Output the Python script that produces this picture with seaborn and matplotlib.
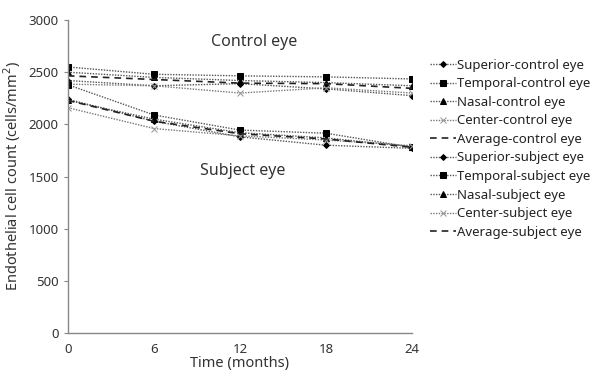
import matplotlib
matplotlib.use("Agg")
import matplotlib.pyplot as plt
import seaborn as sns
import pandas as pd

sns.set_style("white")
plt.rcParams['font.family'] = ['Noto Sans', 'DejaVu Sans']

months = [0, 6, 12, 18, 24]
series_names = [
    "Superior-control eye", "Temporal-control eye", "Nasal-control eye",
    "Center-control eye", "Average-control eye",
    "Superior-subject eye", "Temporal-subject eye", "Nasal-subject eye",
    "Center-subject eye", "Average-subject eye",
]
superior_control = [2420, 2370, 2390, 2340, 2275]
temporal_control = [2550, 2480, 2465, 2455, 2435]
nasal_control = [2500, 2450, 2420, 2400, 2370]
center_control = [2385, 2370, 2300, 2350, 2300]
average_control = [2465, 2430, 2395, 2390, 2345]
superior_subject = [2240, 2030, 1880, 1800, 1770]
temporal_subject = [2380, 2090, 1945, 1915, 1780]
nasal_subject = [2230, 2050, 1920, 1870, 1785]
center_subject = [2160, 1960, 1890, 1850, 1795]
average_subject = [2230, 2030, 1910, 1860, 1780]

values = [superior_control, temporal_control, nasal_control, center_control, average_control,
          superior_subject, temporal_subject, nasal_subject, center_subject, average_subject]

rows = []
for name, vals in zip(series_names, values):
    for m, v in zip(months, vals):
        rows.append({"series": name, "month": m, "count": v})
df = pd.DataFrame(rows)

styles = {
    "Superior": dict(marker="D", markersize=3, color="#555555", mfc="black", mec="black", ls=(0, (1, 1))),
    "Temporal": dict(marker="s", markersize=4.5, color="#555555", mfc="black", mec="black", ls=(0, (1, 1))),
    "Nasal": dict(marker="^", markersize=4, color="#555555", mfc="black", mec="black", ls=(0, (1, 1))),
    "Center": dict(marker="x", markersize=4, color="#777777", mfc="#999999", mec="#999999", ls=(0, (1, 1))),
    "Average": dict(marker=None, markersize=0, color="#222222", mfc="black", mec="black", ls=(0, (4, 3))),
}

fig, ax = plt.subplots(figsize=(6, 3.85), dpi=100)
fig.subplots_adjust(left=0.113, right=0.687, top=0.948, bottom=0.135)

for name in series_names:
    key = name.split("-")[0]
    st = styles[key]
    sub = df[df["series"] == name]
    lw = 1.2 if key == "Average" else 1.0
    sns.lineplot(data=sub, x="month", y="count", ax=ax, label=name,
                 color=st["color"], linestyle=st["ls"], linewidth=lw,
                 marker=st["marker"], markersize=st["markersize"],
                 markerfacecolor=st["mfc"], markeredgecolor=st["mec"])

ax.set_xlim(0, 24)
ax.set_ylim(0, 3000)
ax.set_xticks(months)
ax.set_yticks(range(0, 3001, 500))
ax.set_xticklabels([str(m) for m in months], fontsize=9.5, fontweight="bold", color="#333333")
ax.set_yticklabels([str(v) for v in range(0, 3001, 500)], fontsize=9.5, fontweight="bold", color="#333333")
ax.tick_params(axis="y", length=3, direction="out", left=True, color="#888888")
ax.tick_params(axis="x", length=0, pad=7)
for s in ["top", "right"]:
    ax.spines[s].set_visible(False)
for s in ["left", "bottom"]:
    ax.spines[s].set_color("#888888")
    ax.spines[s].set_linewidth(1.0)
ax.set_xlabel("Time (months)", fontsize=10.5, color="#333333", labelpad=0)
ax.set_ylabel("Endothelial cell count (cells/mm$^2$)", fontsize=10.5, color="#333333")

ax.text(13, 2790, "Control eye", ha="center", va="center", fontsize=11.5, color="#333333")
ax.text(12.2, 1550, "Subject eye", ha="center", va="center", fontsize=11.5, color="#333333")

leg = ax.legend(loc="upper left", bbox_to_anchor=(1.035, 0.893), frameon=False,
                fontsize=9.5, handlelength=2.0, handletextpad=0.1, labelspacing=0.42,
                borderaxespad=0)
for t in leg.get_texts():
    t.set_color("#222222")

fig.savefig("out.png", dpi=100)
